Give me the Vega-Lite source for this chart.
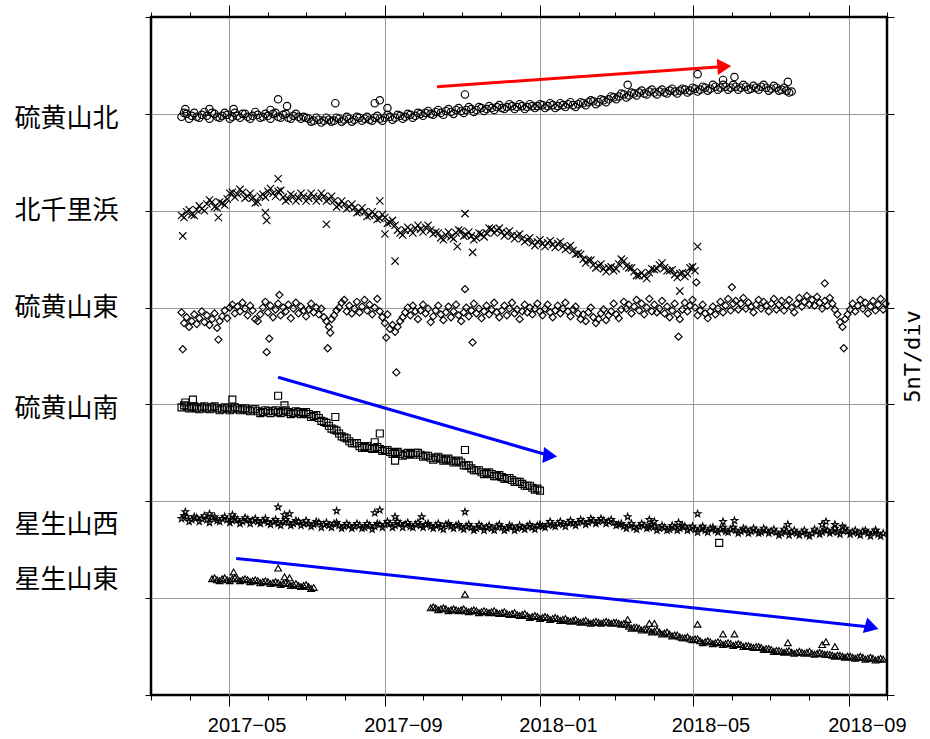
{
"$schema":"https://vega.github.io/schema/vega-lite/v6.json",
"width":736,"height":678,
"autosize":{"type":"none"},
"padding":{"left":151,"top":17,"right":43,"bottom":44},
"background":"white",
"config":{"view":{"stroke":"black","strokeWidth":2.5},"axis":{"domain":false,"tickColor":"black","tickWidth":1,"gridColor":"#999999","gridWidth":1,"labelColor":"black","titleColor":"black"}},
"datasets":{
"arw":[
{"id":"r","t1":"2017-10-12","v1":6.28,"t2":"2018-05-26","v2":6.49},
{"id":"b1","t1":"2017-06-09","v1":3.28,"t2":"2018-01-09","v2":2.47},
{"id":"b2","t1":"2017-05-07","v1":1.41,"t2":"2018-09-19","v2":0.70}
],
"pts":[
{"s":"A","t":"2017-03-25","v":5.97},{"s":"A","t":"2017-03-29","v":6.00},{"s":"A","t":"2017-04-02","v":5.98},{"s":"A","t":"2017-04-06","v":5.97},{"s":"A","t":"2017-04-10","v":5.99},{"s":"A","t":"2017-04-14","v":5.98},{"s":"A","t":"2017-04-18","v":6.01},{"s":"A","t":"2017-04-22","v":5.97},{"s":"A","t":"2017-04-26","v":5.98},{"s":"A","t":"2017-04-30","v":5.99},
{"s":"A","t":"2017-05-04","v":5.97},{"s":"A","t":"2017-05-08","v":5.98},{"s":"A","t":"2017-05-12","v":6.00},{"s":"A","t":"2017-05-16","v":5.97},{"s":"A","t":"2017-05-20","v":5.98},{"s":"A","t":"2017-05-24","v":5.99},{"s":"A","t":"2017-05-28","v":5.97},{"s":"A","t":"2017-06-01","v":5.98},{"s":"A","t":"2017-06-05","v":6.00},{"s":"A","t":"2017-06-09","v":5.97},
{"s":"A","t":"2017-06-13","v":5.99},{"s":"A","t":"2017-06-17","v":5.96},{"s":"A","t":"2017-06-21","v":5.98},{"s":"A","t":"2017-06-25","v":5.97},{"s":"A","t":"2017-06-29","v":5.97},{"s":"A","t":"2017-07-03","v":5.95},{"s":"A","t":"2017-07-07","v":5.93},{"s":"A","t":"2017-07-11","v":5.94},{"s":"A","t":"2017-07-15","v":5.93},{"s":"A","t":"2017-07-19","v":5.94},
{"s":"A","t":"2017-07-23","v":5.93},{"s":"A","t":"2017-07-27","v":5.95},{"s":"A","t":"2017-07-31","v":5.94},{"s":"A","t":"2017-08-04","v":5.95},{"s":"A","t":"2017-08-08","v":5.94},{"s":"A","t":"2017-08-12","v":5.96},{"s":"A","t":"2017-08-16","v":5.95},{"s":"A","t":"2017-08-20","v":5.94},{"s":"A","t":"2017-08-24","v":5.96},{"s":"A","t":"2017-08-28","v":5.95},
{"s":"A","t":"2017-09-01","v":5.96},{"s":"A","t":"2017-09-05","v":5.97},{"s":"A","t":"2017-09-09","v":5.96},{"s":"A","t":"2017-09-13","v":5.98},{"s":"A","t":"2017-09-17","v":5.97},{"s":"A","t":"2017-09-21","v":5.99},{"s":"A","t":"2017-09-25","v":5.98},{"s":"A","t":"2017-09-29","v":6.00},{"s":"A","t":"2017-10-03","v":6.01},{"s":"A","t":"2017-10-07","v":6.00},
{"s":"A","t":"2017-10-11","v":6.02},{"s":"A","t":"2017-10-15","v":6.01},{"s":"A","t":"2017-10-19","v":6.03},{"s":"A","t":"2017-10-23","v":6.02},{"s":"A","t":"2017-10-27","v":6.04},{"s":"A","t":"2017-10-31","v":6.03},{"s":"A","t":"2017-11-04","v":6.04},{"s":"A","t":"2017-11-08","v":6.05},{"s":"A","t":"2017-11-12","v":6.04},{"s":"A","t":"2017-11-16","v":6.06},
{"s":"A","t":"2017-11-20","v":6.05},{"s":"A","t":"2017-11-24","v":6.06},{"s":"A","t":"2017-11-28","v":6.07},{"s":"A","t":"2017-12-02","v":6.06},{"s":"A","t":"2017-12-06","v":6.07},{"s":"A","t":"2017-12-10","v":6.08},{"s":"A","t":"2017-12-14","v":6.07},{"s":"A","t":"2017-12-18","v":6.08},{"s":"A","t":"2017-12-22","v":6.07},{"s":"A","t":"2017-12-26","v":6.08},
{"s":"A","t":"2017-12-30","v":6.08},{"s":"A","t":"2018-01-03","v":6.09},{"s":"A","t":"2018-01-07","v":6.08},{"s":"A","t":"2018-01-11","v":6.09},{"s":"A","t":"2018-01-15","v":6.08},{"s":"A","t":"2018-01-19","v":6.09},{"s":"A","t":"2018-01-23","v":6.10},{"s":"A","t":"2018-01-27","v":6.09},{"s":"A","t":"2018-01-31","v":6.10},{"s":"A","t":"2018-02-04","v":6.11},
{"s":"A","t":"2018-02-08","v":6.12},{"s":"A","t":"2018-02-12","v":6.13},{"s":"A","t":"2018-02-16","v":6.12},{"s":"A","t":"2018-02-20","v":6.14},{"s":"A","t":"2018-02-24","v":6.15},{"s":"A","t":"2018-02-28","v":6.17},{"s":"A","t":"2018-03-04","v":6.18},{"s":"A","t":"2018-03-08","v":6.20},{"s":"A","t":"2018-03-12","v":6.19},{"s":"A","t":"2018-03-16","v":6.21},
{"s":"A","t":"2018-03-20","v":6.22},{"s":"A","t":"2018-03-24","v":6.21},{"s":"A","t":"2018-03-28","v":6.23},{"s":"A","t":"2018-04-01","v":6.22},{"s":"A","t":"2018-04-05","v":6.23},{"s":"A","t":"2018-04-09","v":6.22},{"s":"A","t":"2018-04-13","v":6.24},{"s":"A","t":"2018-04-17","v":6.23},{"s":"A","t":"2018-04-21","v":6.24},{"s":"A","t":"2018-04-25","v":6.25},
{"s":"A","t":"2018-04-29","v":6.24},{"s":"A","t":"2018-05-03","v":6.26},{"s":"A","t":"2018-05-07","v":6.25},{"s":"A","t":"2018-05-11","v":6.27},{"s":"A","t":"2018-05-15","v":6.26},{"s":"A","t":"2018-05-19","v":6.28},{"s":"A","t":"2018-05-23","v":6.27},{"s":"A","t":"2018-05-27","v":6.28},{"s":"A","t":"2018-05-31","v":6.27},{"s":"A","t":"2018-06-04","v":6.28},
{"s":"A","t":"2018-06-08","v":6.27},{"s":"A","t":"2018-06-12","v":6.28},{"s":"A","t":"2018-06-16","v":6.26},{"s":"A","t":"2018-06-20","v":6.27},{"s":"A","t":"2018-06-24","v":6.28},{"s":"A","t":"2018-06-28","v":6.27},{"s":"A","t":"2018-07-02","v":6.26},{"s":"A","t":"2018-07-06","v":6.27},{"s":"A","t":"2018-07-10","v":6.25},{"s":"A","t":"2018-07-14","v":6.24},{"s":"A","t":"2018-07-18","v":6.23},
{"s":"A","t":"2017-03-28","v":6.05},{"s":"A","t":"2017-04-16","v":6.05},{"s":"A","t":"2017-05-05","v":6.05},{"s":"A","t":"2017-06-03","v":6.04},{"s":"A","t":"2017-06-09","v":6.15},{"s":"A","t":"2017-06-16","v":6.08},{"s":"A","t":"2017-07-24","v":6.11},{"s":"A","t":"2017-08-24","v":6.11},{"s":"A","t":"2017-08-28","v":6.14},{"s":"A","t":"2017-09-03","v":6.06},{"s":"A","t":"2017-11-03","v":6.20},{"s":"A","t":"2018-03-11","v":6.30},{"s":"A","t":"2018-05-05","v":6.41},{"s":"A","t":"2018-05-25","v":6.35},{"s":"A","t":"2018-06-03","v":6.38},{"s":"A","t":"2018-07-15","v":6.33},
{"s":"A","t":"2017-03-27","v":6.01},{"s":"A","t":"2017-03-31","v":5.95},{"s":"A","t":"2017-04-04","v":6.01},{"s":"A","t":"2017-04-08","v":5.96},{"s":"A","t":"2017-04-12","v":6.02},{"s":"A","t":"2017-04-16","v":5.95},{"s":"A","t":"2017-04-20","v":6.00},{"s":"A","t":"2017-04-24","v":5.96},{"s":"A","t":"2017-04-28","v":6.01},{"s":"A","t":"2017-05-02","v":5.95},
{"s":"A","t":"2017-05-06","v":6.01},{"s":"A","t":"2017-05-10","v":5.96},{"s":"A","t":"2017-05-14","v":6.00},{"s":"A","t":"2017-05-18","v":5.95},{"s":"A","t":"2017-05-22","v":6.02},{"s":"A","t":"2017-05-26","v":5.96},{"s":"A","t":"2017-05-30","v":6.00},{"s":"A","t":"2017-06-03","v":5.95},{"s":"A","t":"2017-06-07","v":6.01},{"s":"A","t":"2017-06-11","v":5.96},
{"s":"A","t":"2017-06-15","v":6.00},{"s":"A","t":"2017-06-19","v":5.95},{"s":"A","t":"2017-06-23","v":6.00},{"s":"A","t":"2017-06-27","v":5.95},{"s":"A","t":"2017-07-01","v":5.96},{"s":"A","t":"2017-07-05","v":5.92},{"s":"A","t":"2017-07-09","v":5.96},{"s":"A","t":"2017-07-13","v":5.91},{"s":"A","t":"2017-07-17","v":5.96},{"s":"A","t":"2017-07-21","v":5.92},
{"s":"A","t":"2017-07-25","v":5.96},{"s":"A","t":"2017-07-29","v":5.92},{"s":"A","t":"2017-08-02","v":5.97},{"s":"A","t":"2017-08-06","v":5.92},{"s":"A","t":"2017-08-10","v":5.97},{"s":"A","t":"2017-08-14","v":5.93},{"s":"A","t":"2017-08-18","v":5.97},{"s":"A","t":"2017-08-22","v":5.93},{"s":"A","t":"2017-08-26","v":5.98},{"s":"A","t":"2017-08-30","v":5.93},
{"s":"A","t":"2017-09-03","v":5.99},{"s":"A","t":"2017-09-07","v":5.94},{"s":"A","t":"2017-09-11","v":5.99},{"s":"A","t":"2017-09-15","v":5.95},{"s":"A","t":"2017-09-19","v":6.00},{"s":"A","t":"2017-09-23","v":5.96},{"s":"A","t":"2017-09-27","v":6.01},{"s":"A","t":"2017-10-01","v":5.98},{"s":"A","t":"2017-10-05","v":6.03},{"s":"A","t":"2017-10-09","v":5.99},
{"s":"A","t":"2017-10-13","v":6.04},{"s":"A","t":"2017-10-17","v":5.99},{"s":"A","t":"2017-10-21","v":6.05},{"s":"A","t":"2017-10-25","v":6.00},{"s":"A","t":"2017-10-29","v":6.06},{"s":"A","t":"2017-11-02","v":6.01},{"s":"A","t":"2017-11-06","v":6.07},{"s":"A","t":"2017-11-10","v":6.02},{"s":"A","t":"2017-11-14","v":6.07},{"s":"A","t":"2017-11-18","v":6.03},
{"s":"A","t":"2017-11-22","v":6.08},{"s":"A","t":"2017-11-26","v":6.04},{"s":"A","t":"2017-11-30","v":6.09},{"s":"A","t":"2017-12-04","v":6.05},{"s":"A","t":"2017-12-08","v":6.10},{"s":"A","t":"2017-12-12","v":6.05},{"s":"A","t":"2017-12-16","v":6.10},{"s":"A","t":"2017-12-20","v":6.05},{"s":"A","t":"2017-12-24","v":6.10},{"s":"A","t":"2017-12-28","v":6.06},
{"s":"A","t":"2018-01-01","v":6.10},{"s":"A","t":"2018-01-05","v":6.06},{"s":"A","t":"2018-01-09","v":6.11},{"s":"A","t":"2018-01-13","v":6.06},{"s":"A","t":"2018-01-17","v":6.11},{"s":"A","t":"2018-01-21","v":6.07},{"s":"A","t":"2018-01-25","v":6.12},{"s":"A","t":"2018-01-29","v":6.07},{"s":"A","t":"2018-02-02","v":6.12},{"s":"A","t":"2018-02-06","v":6.09},
{"s":"A","t":"2018-02-10","v":6.14},{"s":"A","t":"2018-02-14","v":6.10},{"s":"A","t":"2018-02-18","v":6.15},{"s":"A","t":"2018-02-22","v":6.12},{"s":"A","t":"2018-02-26","v":6.18},{"s":"A","t":"2018-03-02","v":6.15},{"s":"A","t":"2018-03-06","v":6.21},{"s":"A","t":"2018-03-10","v":6.17},{"s":"A","t":"2018-03-14","v":6.22},{"s":"A","t":"2018-03-18","v":6.19},
{"s":"A","t":"2018-03-22","v":6.24},{"s":"A","t":"2018-03-26","v":6.20},{"s":"A","t":"2018-03-30","v":6.25},{"s":"A","t":"2018-04-03","v":6.20},{"s":"A","t":"2018-04-07","v":6.25},{"s":"A","t":"2018-04-11","v":6.21},{"s":"A","t":"2018-04-15","v":6.26},{"s":"A","t":"2018-04-19","v":6.21},{"s":"A","t":"2018-04-23","v":6.26},{"s":"A","t":"2018-04-27","v":6.22},
{"s":"A","t":"2018-05-01","v":6.27},{"s":"A","t":"2018-05-05","v":6.23},{"s":"A","t":"2018-05-09","v":6.28},{"s":"A","t":"2018-05-13","v":6.24},{"s":"A","t":"2018-05-17","v":6.30},{"s":"A","t":"2018-05-21","v":6.25},{"s":"A","t":"2018-05-25","v":6.30},{"s":"A","t":"2018-05-29","v":6.25},{"s":"A","t":"2018-06-02","v":6.30},{"s":"A","t":"2018-06-06","v":6.25},
{"s":"A","t":"2018-06-10","v":6.30},{"s":"A","t":"2018-06-14","v":6.25},{"s":"A","t":"2018-06-18","v":6.29},{"s":"A","t":"2018-06-22","v":6.25},{"s":"A","t":"2018-06-26","v":6.30},{"s":"A","t":"2018-06-30","v":6.24},{"s":"A","t":"2018-07-04","v":6.29},{"s":"A","t":"2018-07-08","v":6.24},{"s":"A","t":"2018-07-12","v":6.27},{"s":"A","t":"2018-07-16","v":6.22},
{"s":"B","t":"2017-03-25","v":4.95},{"s":"B","t":"2017-03-29","v":4.99},{"s":"B","t":"2017-04-02","v":4.96},{"s":"B","t":"2017-04-06","v":5.01},{"s":"B","t":"2017-04-10","v":5.02},{"s":"B","t":"2017-04-14","v":5.07},{"s":"B","t":"2017-04-18","v":5.09},{"s":"B","t":"2017-04-22","v":5.03},{"s":"B","t":"2017-04-26","v":5.08},{"s":"B","t":"2017-04-30","v":5.12},
{"s":"B","t":"2017-05-04","v":5.19},{"s":"B","t":"2017-05-08","v":5.17},{"s":"B","t":"2017-05-12","v":5.19},{"s":"B","t":"2017-05-16","v":5.15},{"s":"B","t":"2017-05-20","v":5.13},{"s":"B","t":"2017-05-24","v":5.09},{"s":"B","t":"2017-05-28","v":5.17},{"s":"B","t":"2017-06-01","v":5.20},{"s":"B","t":"2017-06-05","v":5.18},{"s":"B","t":"2017-06-09","v":5.20},
{"s":"B","t":"2017-06-13","v":5.14},{"s":"B","t":"2017-06-17","v":5.12},{"s":"B","t":"2017-06-21","v":5.15},{"s":"B","t":"2017-06-25","v":5.13},{"s":"B","t":"2017-06-29","v":5.15},{"s":"B","t":"2017-07-03","v":5.13},{"s":"B","t":"2017-07-07","v":5.15},{"s":"B","t":"2017-07-11","v":5.13},{"s":"B","t":"2017-07-15","v":5.15},{"s":"B","t":"2017-07-19","v":5.12},
{"s":"B","t":"2017-07-23","v":5.10},{"s":"B","t":"2017-07-27","v":5.06},{"s":"B","t":"2017-07-31","v":5.07},{"s":"B","t":"2017-08-04","v":5.04},{"s":"B","t":"2017-08-08","v":5.03},{"s":"B","t":"2017-08-12","v":4.99},{"s":"B","t":"2017-08-16","v":4.99},{"s":"B","t":"2017-08-20","v":4.95},{"s":"B","t":"2017-08-24","v":4.96},{"s":"B","t":"2017-08-28","v":4.92},
{"s":"B","t":"2017-09-01","v":4.93},{"s":"B","t":"2017-09-05","v":4.88},{"s":"B","t":"2017-09-09","v":4.85},{"s":"B","t":"2017-09-13","v":4.77},{"s":"B","t":"2017-09-17","v":4.80},{"s":"B","t":"2017-09-21","v":4.80},{"s":"B","t":"2017-09-25","v":4.82},{"s":"B","t":"2017-09-29","v":4.81},{"s":"B","t":"2017-10-03","v":4.83},{"s":"B","t":"2017-10-07","v":4.80},
{"s":"B","t":"2017-10-11","v":4.78},{"s":"B","t":"2017-10-15","v":4.72},{"s":"B","t":"2017-10-19","v":4.75},{"s":"B","t":"2017-10-23","v":4.73},{"s":"B","t":"2017-10-27","v":4.77},{"s":"B","t":"2017-10-31","v":4.79},{"s":"B","t":"2017-11-04","v":4.75},{"s":"B","t":"2017-11-08","v":4.74},{"s":"B","t":"2017-11-12","v":4.72},{"s":"B","t":"2017-11-16","v":4.76},
{"s":"B","t":"2017-11-20","v":4.77},{"s":"B","t":"2017-11-24","v":4.81},{"s":"B","t":"2017-11-28","v":4.80},{"s":"B","t":"2017-12-02","v":4.78},{"s":"B","t":"2017-12-06","v":4.77},{"s":"B","t":"2017-12-10","v":4.74},{"s":"B","t":"2017-12-14","v":4.74},{"s":"B","t":"2017-12-18","v":4.71},{"s":"B","t":"2017-12-22","v":4.70},{"s":"B","t":"2017-12-26","v":4.67},
{"s":"B","t":"2017-12-30","v":4.68},{"s":"B","t":"2018-01-03","v":4.66},{"s":"B","t":"2018-01-07","v":4.67},{"s":"B","t":"2018-01-11","v":4.65},{"s":"B","t":"2018-01-15","v":4.66},{"s":"B","t":"2018-01-19","v":4.63},{"s":"B","t":"2018-01-23","v":4.62},{"s":"B","t":"2018-01-27","v":4.59},{"s":"B","t":"2018-01-31","v":4.56},{"s":"B","t":"2018-02-04","v":4.50},
{"s":"B","t":"2018-02-08","v":4.49},{"s":"B","t":"2018-02-12","v":4.44},{"s":"B","t":"2018-02-16","v":4.43},{"s":"B","t":"2018-02-20","v":4.40},{"s":"B","t":"2018-02-24","v":4.41},{"s":"B","t":"2018-02-28","v":4.38},{"s":"B","t":"2018-03-04","v":4.45},{"s":"B","t":"2018-03-08","v":4.48},{"s":"B","t":"2018-03-12","v":4.41},{"s":"B","t":"2018-03-16","v":4.37},
{"s":"B","t":"2018-03-20","v":4.33},{"s":"B","t":"2018-03-24","v":4.33},{"s":"B","t":"2018-03-28","v":4.36},{"s":"B","t":"2018-04-01","v":4.39},{"s":"B","t":"2018-04-05","v":4.44},{"s":"B","t":"2018-04-09","v":4.41},{"s":"B","t":"2018-04-13","v":4.38},{"s":"B","t":"2018-04-17","v":4.34},{"s":"B","t":"2018-04-21","v":4.35},{"s":"B","t":"2018-04-25","v":4.32},
{"s":"B","t":"2018-04-29","v":4.41},{"s":"B","t":"2018-05-03","v":4.38},
{"s":"B","t":"2017-03-26","v":4.74},{"s":"B","t":"2017-04-23","v":4.93},{"s":"B","t":"2017-05-30","v":4.98},{"s":"B","t":"2017-05-31","v":4.90},{"s":"B","t":"2017-06-09","v":5.33},{"s":"B","t":"2017-07-17","v":4.86},{"s":"B","t":"2017-08-28","v":5.10},{"s":"B","t":"2017-09-01","v":4.76},{"s":"B","t":"2017-09-09","v":4.48},{"s":"B","t":"2017-10-28","v":4.63},{"s":"B","t":"2017-11-03","v":4.97},{"s":"B","t":"2017-11-09","v":4.57},{"s":"B","t":"2018-04-21","v":4.17},{"s":"B","t":"2018-05-05","v":4.63},
{"s":"B","t":"2017-03-27","v":4.93},{"s":"B","t":"2017-03-31","v":5.01},{"s":"B","t":"2017-04-04","v":4.95},{"s":"B","t":"2017-04-08","v":5.05},{"s":"B","t":"2017-04-12","v":5.00},{"s":"B","t":"2017-04-16","v":5.11},{"s":"B","t":"2017-04-20","v":5.04},{"s":"B","t":"2017-04-24","v":5.09},{"s":"B","t":"2017-04-28","v":5.06},{"s":"B","t":"2017-05-02","v":5.18},
{"s":"B","t":"2017-05-06","v":5.14},{"s":"B","t":"2017-05-10","v":5.22},{"s":"B","t":"2017-05-14","v":5.13},{"s":"B","t":"2017-05-18","v":5.18},{"s":"B","t":"2017-05-22","v":5.08},{"s":"B","t":"2017-05-26","v":5.15},{"s":"B","t":"2017-05-30","v":5.14},{"s":"B","t":"2017-06-03","v":5.23},{"s":"B","t":"2017-06-07","v":5.15},{"s":"B","t":"2017-06-11","v":5.21},
{"s":"B","t":"2017-06-15","v":5.10},{"s":"B","t":"2017-06-19","v":5.17},{"s":"B","t":"2017-06-23","v":5.10},{"s":"B","t":"2017-06-27","v":5.18},{"s":"B","t":"2017-07-01","v":5.10},{"s":"B","t":"2017-07-05","v":5.18},{"s":"B","t":"2017-07-09","v":5.10},{"s":"B","t":"2017-07-13","v":5.18},{"s":"B","t":"2017-07-17","v":5.10},{"s":"B","t":"2017-07-21","v":5.15},
{"s":"B","t":"2017-07-25","v":5.04},{"s":"B","t":"2017-07-29","v":5.10},{"s":"B","t":"2017-08-02","v":5.02},{"s":"B","t":"2017-08-06","v":5.07},{"s":"B","t":"2017-08-10","v":4.98},{"s":"B","t":"2017-08-14","v":5.03},{"s":"B","t":"2017-08-18","v":4.94},{"s":"B","t":"2017-08-22","v":4.99},{"s":"B","t":"2017-08-26","v":4.91},{"s":"B","t":"2017-08-30","v":4.96},
{"s":"B","t":"2017-09-03","v":4.87},{"s":"B","t":"2017-09-07","v":4.90},{"s":"B","t":"2017-09-11","v":4.80},{"s":"B","t":"2017-09-15","v":4.75},{"s":"B","t":"2017-09-19","v":4.83},{"s":"B","t":"2017-09-23","v":4.77},{"s":"B","t":"2017-09-27","v":4.85},{"s":"B","t":"2017-10-01","v":4.78},{"s":"B","t":"2017-10-05","v":4.85},{"s":"B","t":"2017-10-09","v":4.76},
{"s":"B","t":"2017-10-13","v":4.77},{"s":"B","t":"2017-10-17","v":4.70},{"s":"B","t":"2017-10-21","v":4.78},{"s":"B","t":"2017-10-25","v":4.71},{"s":"B","t":"2017-10-29","v":4.80},{"s":"B","t":"2017-11-02","v":4.74},{"s":"B","t":"2017-11-06","v":4.78},{"s":"B","t":"2017-11-10","v":4.70},{"s":"B","t":"2017-11-14","v":4.77},{"s":"B","t":"2017-11-18","v":4.73},
{"s":"B","t":"2017-11-22","v":4.82},{"s":"B","t":"2017-11-26","v":4.77},{"s":"B","t":"2017-11-30","v":4.82},{"s":"B","t":"2017-12-04","v":4.74},{"s":"B","t":"2017-12-08","v":4.79},{"s":"B","t":"2017-12-12","v":4.71},{"s":"B","t":"2017-12-16","v":4.76},{"s":"B","t":"2017-12-20","v":4.68},{"s":"B","t":"2017-12-24","v":4.72},{"s":"B","t":"2017-12-28","v":4.64},
{"s":"B","t":"2018-01-01","v":4.70},{"s":"B","t":"2018-01-05","v":4.63},{"s":"B","t":"2018-01-09","v":4.69},{"s":"B","t":"2018-01-13","v":4.62},{"s":"B","t":"2018-01-17","v":4.68},{"s":"B","t":"2018-01-21","v":4.60},{"s":"B","t":"2018-01-25","v":4.64},{"s":"B","t":"2018-01-29","v":4.55},{"s":"B","t":"2018-02-02","v":4.55},{"s":"B","t":"2018-02-06","v":4.46},
{"s":"B","t":"2018-02-10","v":4.49},{"s":"B","t":"2018-02-14","v":4.41},{"s":"B","t":"2018-02-18","v":4.45},{"s":"B","t":"2018-02-22","v":4.37},{"s":"B","t":"2018-02-26","v":4.42},{"s":"B","t":"2018-03-02","v":4.40},{"s":"B","t":"2018-03-06","v":4.50},{"s":"B","t":"2018-03-10","v":4.43},{"s":"B","t":"2018-03-14","v":4.41},{"s":"B","t":"2018-03-18","v":4.33},
{"s":"B","t":"2018-03-22","v":4.36},{"s":"B","t":"2018-03-26","v":4.30},{"s":"B","t":"2018-03-30","v":4.40},{"s":"B","t":"2018-04-03","v":4.40},{"s":"B","t":"2018-04-07","v":4.46},{"s":"B","t":"2018-04-11","v":4.38},{"s":"B","t":"2018-04-15","v":4.39},{"s":"B","t":"2018-04-19","v":4.31},{"s":"B","t":"2018-04-23","v":4.36},{"s":"B","t":"2018-04-27","v":4.35},{"s":"B","t":"2018-05-01","v":4.42},
{"s":"C","t":"2017-03-25","v":3.95},{"s":"C","t":"2017-03-27","v":3.84},{"s":"C","t":"2017-03-29","v":3.90},{"s":"C","t":"2017-03-31","v":3.80},{"s":"C","t":"2017-04-02","v":3.86},{"s":"C","t":"2017-04-04","v":3.93},{"s":"C","t":"2017-04-06","v":3.83},{"s":"C","t":"2017-04-08","v":3.89},{"s":"C","t":"2017-04-10","v":3.96},{"s":"C","t":"2017-04-12","v":3.85},
{"s":"C","t":"2017-04-14","v":3.92},{"s":"C","t":"2017-04-16","v":3.82},{"s":"C","t":"2017-04-18","v":3.88},{"s":"C","t":"2017-04-20","v":3.94},{"s":"C","t":"2017-04-22","v":3.79},{"s":"C","t":"2017-04-24","v":3.86},{"s":"C","t":"2017-04-26","v":3.91},{"s":"C","t":"2017-04-28","v":3.97},{"s":"C","t":"2017-04-30","v":3.89},{"s":"C","t":"2017-05-02","v":4.00},
{"s":"C","t":"2017-05-04","v":4.03},{"s":"C","t":"2017-05-06","v":3.94},{"s":"C","t":"2017-05-08","v":4.01},{"s":"C","t":"2017-05-10","v":3.96},{"s":"C","t":"2017-05-12","v":4.05},{"s":"C","t":"2017-05-14","v":3.99},{"s":"C","t":"2017-05-16","v":3.92},{"s":"C","t":"2017-05-18","v":4.02},{"s":"C","t":"2017-05-20","v":3.97},{"s":"C","t":"2017-05-22","v":3.88},
{"s":"C","t":"2017-05-24","v":3.86},{"s":"C","t":"2017-05-26","v":3.93},{"s":"C","t":"2017-05-28","v":4.00},{"s":"C","t":"2017-05-30","v":4.06},{"s":"C","t":"2017-06-01","v":3.95},{"s":"C","t":"2017-06-03","v":4.02},{"s":"C","t":"2017-06-05","v":3.90},{"s":"C","t":"2017-06-07","v":3.98},{"s":"C","t":"2017-06-09","v":4.04},{"s":"C","t":"2017-06-11","v":3.92},
{"s":"C","t":"2017-06-13","v":4.00},{"s":"C","t":"2017-06-15","v":3.96},{"s":"C","t":"2017-06-17","v":4.03},{"s":"C","t":"2017-06-19","v":3.89},{"s":"C","t":"2017-06-21","v":3.99},{"s":"C","t":"2017-06-23","v":4.05},{"s":"C","t":"2017-06-25","v":3.94},{"s":"C","t":"2017-06-27","v":4.01},{"s":"C","t":"2017-06-29","v":3.97},{"s":"C","t":"2017-07-01","v":3.91},
{"s":"C","t":"2017-07-03","v":3.98},{"s":"C","t":"2017-07-05","v":4.04},{"s":"C","t":"2017-07-07","v":3.95},{"s":"C","t":"2017-07-09","v":4.00},{"s":"C","t":"2017-07-11","v":3.93},{"s":"C","t":"2017-07-13","v":3.99},{"s":"C","t":"2017-07-15","v":3.90},{"s":"C","t":"2017-07-17","v":3.86},{"s":"C","t":"2017-07-19","v":3.80},{"s":"C","t":"2017-07-21","v":3.88},
{"s":"C","t":"2017-07-23","v":3.92},{"s":"C","t":"2017-07-25","v":3.97},{"s":"C","t":"2017-07-27","v":4.00},{"s":"C","t":"2017-07-29","v":4.05},{"s":"C","t":"2017-07-31","v":4.08},{"s":"C","t":"2017-08-02","v":3.96},{"s":"C","t":"2017-08-04","v":4.02},{"s":"C","t":"2017-08-06","v":3.94},{"s":"C","t":"2017-08-08","v":3.99},{"s":"C","t":"2017-08-10","v":4.06},
{"s":"C","t":"2017-08-12","v":3.95},{"s":"C","t":"2017-08-14","v":4.01},{"s":"C","t":"2017-08-16","v":4.08},{"s":"C","t":"2017-08-18","v":3.97},{"s":"C","t":"2017-08-20","v":4.03},{"s":"C","t":"2017-08-22","v":3.93},{"s":"C","t":"2017-08-24","v":4.00},{"s":"C","t":"2017-08-26","v":4.09},{"s":"C","t":"2017-08-28","v":3.96},{"s":"C","t":"2017-08-30","v":3.90},
{"s":"C","t":"2017-09-01","v":3.84},{"s":"C","t":"2017-09-03","v":3.93},{"s":"C","t":"2017-09-05","v":3.78},{"s":"C","t":"2017-09-07","v":3.82},{"s":"C","t":"2017-09-09","v":3.75},{"s":"C","t":"2017-09-11","v":3.80},{"s":"C","t":"2017-09-13","v":3.86},{"s":"C","t":"2017-09-15","v":3.90},{"s":"C","t":"2017-09-17","v":3.95},{"s":"C","t":"2017-09-19","v":4.00},
{"s":"C","t":"2017-09-21","v":3.92},{"s":"C","t":"2017-09-23","v":4.02},{"s":"C","t":"2017-09-25","v":3.96},{"s":"C","t":"2017-09-27","v":3.88},{"s":"C","t":"2017-09-29","v":3.97},{"s":"C","t":"2017-10-01","v":4.03},{"s":"C","t":"2017-10-03","v":3.94},{"s":"C","t":"2017-10-05","v":3.99},{"s":"C","t":"2017-10-07","v":3.85},{"s":"C","t":"2017-10-09","v":3.91},
{"s":"C","t":"2017-10-11","v":3.97},{"s":"C","t":"2017-10-13","v":4.02},{"s":"C","t":"2017-10-15","v":3.93},{"s":"C","t":"2017-10-17","v":3.87},{"s":"C","t":"2017-10-19","v":3.95},{"s":"C","t":"2017-10-21","v":4.01},{"s":"C","t":"2017-10-23","v":3.90},{"s":"C","t":"2017-10-25","v":3.96},{"s":"C","t":"2017-10-27","v":4.03},{"s":"C","t":"2017-10-29","v":3.92},
{"s":"C","t":"2017-10-31","v":3.86},{"s":"C","t":"2017-11-02","v":3.95},{"s":"C","t":"2017-11-04","v":4.00},{"s":"C","t":"2017-11-06","v":3.91},{"s":"C","t":"2017-11-08","v":3.97},{"s":"C","t":"2017-11-10","v":4.04},{"s":"C","t":"2017-11-12","v":3.94},{"s":"C","t":"2017-11-14","v":3.99},{"s":"C","t":"2017-11-16","v":3.89},{"s":"C","t":"2017-11-18","v":3.96},
{"s":"C","t":"2017-11-20","v":4.02},{"s":"C","t":"2017-11-22","v":3.93},{"s":"C","t":"2017-11-24","v":3.98},{"s":"C","t":"2017-11-26","v":4.05},{"s":"C","t":"2017-11-28","v":3.95},{"s":"C","t":"2017-11-30","v":3.90},{"s":"C","t":"2017-12-02","v":3.97},{"s":"C","t":"2017-12-04","v":4.02},{"s":"C","t":"2017-12-06","v":3.92},{"s":"C","t":"2017-12-08","v":3.99},
{"s":"C","t":"2017-12-10","v":4.05},{"s":"C","t":"2017-12-12","v":3.94},{"s":"C","t":"2017-12-14","v":3.98},{"s":"C","t":"2017-12-16","v":3.88},{"s":"C","t":"2017-12-18","v":3.96},{"s":"C","t":"2017-12-20","v":4.03},{"s":"C","t":"2017-12-22","v":3.95},{"s":"C","t":"2017-12-24","v":4.00},{"s":"C","t":"2017-12-26","v":3.93},{"s":"C","t":"2017-12-28","v":3.99},
{"s":"C","t":"2017-12-30","v":4.04},{"s":"C","t":"2018-01-01","v":3.96},{"s":"C","t":"2018-01-03","v":3.92},{"s":"C","t":"2018-01-05","v":3.99},{"s":"C","t":"2018-01-07","v":4.03},{"s":"C","t":"2018-01-09","v":3.95},{"s":"C","t":"2018-01-11","v":3.90},{"s":"C","t":"2018-01-13","v":3.97},{"s":"C","t":"2018-01-15","v":4.02},{"s":"C","t":"2018-01-17","v":3.94},
{"s":"C","t":"2018-01-19","v":3.99},{"s":"C","t":"2018-01-21","v":4.05},{"s":"C","t":"2018-01-23","v":3.96},{"s":"C","t":"2018-01-25","v":3.91},{"s":"C","t":"2018-01-27","v":3.98},{"s":"C","t":"2018-01-29","v":4.01},{"s":"C","t":"2018-01-31","v":3.94},{"s":"C","t":"2018-02-02","v":3.88},{"s":"C","t":"2018-02-04","v":3.93},{"s":"C","t":"2018-02-06","v":3.86},
{"s":"C","t":"2018-02-08","v":3.95},{"s":"C","t":"2018-02-10","v":4.00},{"s":"C","t":"2018-02-12","v":3.90},{"s":"C","t":"2018-02-14","v":3.84},{"s":"C","t":"2018-02-16","v":3.88},{"s":"C","t":"2018-02-18","v":3.94},{"s":"C","t":"2018-02-20","v":3.98},{"s":"C","t":"2018-02-22","v":3.87},{"s":"C","t":"2018-02-24","v":3.92},{"s":"C","t":"2018-02-26","v":3.96},
{"s":"C","t":"2018-02-28","v":4.04},{"s":"C","t":"2018-03-02","v":3.93},{"s":"C","t":"2018-03-04","v":3.89},{"s":"C","t":"2018-03-06","v":3.98},{"s":"C","t":"2018-03-08","v":4.06},{"s":"C","t":"2018-03-10","v":3.99},{"s":"C","t":"2018-03-12","v":4.03},{"s":"C","t":"2018-03-14","v":3.94},{"s":"C","t":"2018-03-16","v":4.01},{"s":"C","t":"2018-03-18","v":4.08},
{"s":"C","t":"2018-03-20","v":3.97},{"s":"C","t":"2018-03-22","v":4.04},{"s":"C","t":"2018-03-24","v":3.93},{"s":"C","t":"2018-03-26","v":4.00},{"s":"C","t":"2018-03-28","v":4.09},{"s":"C","t":"2018-03-30","v":3.96},{"s":"C","t":"2018-04-01","v":4.03},{"s":"C","t":"2018-04-03","v":3.95},{"s":"C","t":"2018-04-05","v":3.99},{"s":"C","t":"2018-04-07","v":4.07},
{"s":"C","t":"2018-04-09","v":3.94},{"s":"C","t":"2018-04-11","v":4.01},{"s":"C","t":"2018-04-13","v":3.90},{"s":"C","t":"2018-04-15","v":3.97},{"s":"C","t":"2018-04-17","v":4.04},{"s":"C","t":"2018-04-19","v":3.93},{"s":"C","t":"2018-04-21","v":3.88},{"s":"C","t":"2018-04-23","v":3.98},{"s":"C","t":"2018-04-25","v":4.05},{"s":"C","t":"2018-04-27","v":3.96},
{"s":"C","t":"2018-04-29","v":4.02},{"s":"C","t":"2018-05-01","v":4.08},{"s":"C","t":"2018-05-03","v":4.00},{"s":"C","t":"2018-05-05","v":3.92},{"s":"C","t":"2018-05-07","v":3.97},{"s":"C","t":"2018-05-09","v":4.03},{"s":"C","t":"2018-05-11","v":3.94},{"s":"C","t":"2018-05-13","v":3.89},{"s":"C","t":"2018-05-15","v":3.96},{"s":"C","t":"2018-05-17","v":4.01},
{"s":"C","t":"2018-05-19","v":3.93},{"s":"C","t":"2018-05-21","v":3.99},{"s":"C","t":"2018-05-23","v":4.06},{"s":"C","t":"2018-05-25","v":3.95},{"s":"C","t":"2018-05-27","v":4.02},{"s":"C","t":"2018-05-29","v":4.09},{"s":"C","t":"2018-05-31","v":3.97},{"s":"C","t":"2018-06-02","v":4.04},{"s":"C","t":"2018-06-04","v":4.07},{"s":"C","t":"2018-06-06","v":3.98},
{"s":"C","t":"2018-06-08","v":4.04},{"s":"C","t":"2018-06-10","v":4.10},{"s":"C","t":"2018-06-12","v":3.99},{"s":"C","t":"2018-06-14","v":4.05},{"s":"C","t":"2018-06-16","v":4.01},{"s":"C","t":"2018-06-18","v":3.95},{"s":"C","t":"2018-06-20","v":4.03},{"s":"C","t":"2018-06-22","v":4.08},{"s":"C","t":"2018-06-24","v":3.99},{"s":"C","t":"2018-06-26","v":4.06},
{"s":"C","t":"2018-06-28","v":4.02},{"s":"C","t":"2018-06-30","v":3.96},{"s":"C","t":"2018-07-02","v":4.04},{"s":"C","t":"2018-07-04","v":4.09},{"s":"C","t":"2018-07-06","v":3.98},{"s":"C","t":"2018-07-08","v":4.03},{"s":"C","t":"2018-07-10","v":4.07},{"s":"C","t":"2018-07-12","v":3.97},{"s":"C","t":"2018-07-14","v":4.02},{"s":"C","t":"2018-07-16","v":4.08},
{"s":"C","t":"2018-07-18","v":4.00},{"s":"C","t":"2018-07-20","v":3.95},{"s":"C","t":"2018-07-22","v":4.04},{"s":"C","t":"2018-07-24","v":4.10},{"s":"C","t":"2018-07-26","v":4.01},{"s":"C","t":"2018-07-28","v":4.06},{"s":"C","t":"2018-07-30","v":4.12},{"s":"C","t":"2018-08-01","v":4.03},{"s":"C","t":"2018-08-03","v":4.08},{"s":"C","t":"2018-08-05","v":4.02},
{"s":"C","t":"2018-08-07","v":4.11},{"s":"C","t":"2018-08-09","v":4.05},{"s":"C","t":"2018-08-11","v":3.99},{"s":"C","t":"2018-08-13","v":4.07},{"s":"C","t":"2018-08-15","v":4.02},{"s":"C","t":"2018-08-17","v":4.10},{"s":"C","t":"2018-08-19","v":4.04},{"s":"C","t":"2018-08-21","v":3.98},{"s":"C","t":"2018-08-23","v":3.93},{"s":"C","t":"2018-08-25","v":3.85},
{"s":"C","t":"2018-08-27","v":3.80},{"s":"C","t":"2018-08-29","v":3.88},{"s":"C","t":"2018-08-31","v":3.93},{"s":"C","t":"2018-09-02","v":3.98},{"s":"C","t":"2018-09-04","v":4.04},{"s":"C","t":"2018-09-06","v":3.96},{"s":"C","t":"2018-09-08","v":4.02},{"s":"C","t":"2018-09-10","v":4.08},{"s":"C","t":"2018-09-12","v":3.99},{"s":"C","t":"2018-09-14","v":4.05},
{"s":"C","t":"2018-09-16","v":3.94},{"s":"C","t":"2018-09-18","v":4.01},{"s":"C","t":"2018-09-20","v":4.07},{"s":"C","t":"2018-09-22","v":3.97},{"s":"C","t":"2018-09-24","v":4.03},{"s":"C","t":"2018-09-26","v":4.09},{"s":"C","t":"2018-09-28","v":3.98},{"s":"C","t":"2018-09-30","v":4.04},
{"s":"C","t":"2017-03-26","v":3.57},{"s":"C","t":"2017-04-23","v":3.67},{"s":"C","t":"2017-05-31","v":3.54},{"s":"C","t":"2017-06-02","v":3.68},{"s":"C","t":"2017-06-10","v":4.13},{"s":"C","t":"2017-07-18","v":3.58},{"s":"C","t":"2017-07-20","v":3.74},{"s":"C","t":"2017-09-02","v":3.69},{"s":"C","t":"2017-09-10","v":3.33},{"s":"C","t":"2017-11-03","v":4.19},{"s":"C","t":"2017-11-09","v":3.64},{"s":"C","t":"2018-04-20","v":3.70},{"s":"C","t":"2018-05-04","v":4.26},{"s":"C","t":"2018-06-01","v":4.21},{"s":"C","t":"2018-08-13","v":4.25},{"s":"C","t":"2018-08-28","v":3.58},
{"s":"D","t":"2017-03-25","v":2.97},{"s":"D","t":"2017-03-29","v":2.98},{"s":"D","t":"2017-04-02","v":2.97},{"s":"D","t":"2017-04-06","v":2.96},{"s":"D","t":"2017-04-10","v":2.97},{"s":"D","t":"2017-04-14","v":2.96},{"s":"D","t":"2017-04-18","v":2.97},{"s":"D","t":"2017-04-22","v":2.96},{"s":"D","t":"2017-04-26","v":2.95},{"s":"D","t":"2017-04-30","v":2.96},
{"s":"D","t":"2017-05-04","v":2.95},{"s":"D","t":"2017-05-08","v":2.96},{"s":"D","t":"2017-05-12","v":2.95},{"s":"D","t":"2017-05-16","v":2.94},{"s":"D","t":"2017-05-20","v":2.95},{"s":"D","t":"2017-05-24","v":2.93},{"s":"D","t":"2017-05-28","v":2.92},{"s":"D","t":"2017-06-01","v":2.93},{"s":"D","t":"2017-06-05","v":2.93},{"s":"D","t":"2017-06-09","v":2.92},
{"s":"D","t":"2017-06-13","v":2.93},{"s":"D","t":"2017-06-17","v":2.92},{"s":"D","t":"2017-06-21","v":2.91},{"s":"D","t":"2017-06-25","v":2.92},{"s":"D","t":"2017-06-29","v":2.91},{"s":"D","t":"2017-07-03","v":2.90},{"s":"D","t":"2017-07-07","v":2.88},{"s":"D","t":"2017-07-11","v":2.86},{"s":"D","t":"2017-07-15","v":2.82},{"s":"D","t":"2017-07-19","v":2.78},
{"s":"D","t":"2017-07-23","v":2.74},{"s":"D","t":"2017-07-27","v":2.70},{"s":"D","t":"2017-07-31","v":2.66},{"s":"D","t":"2017-08-04","v":2.62},{"s":"D","t":"2017-08-08","v":2.60},{"s":"D","t":"2017-08-12","v":2.57},{"s":"D","t":"2017-08-16","v":2.56},{"s":"D","t":"2017-08-20","v":2.55},{"s":"D","t":"2017-08-24","v":2.55},{"s":"D","t":"2017-08-28","v":2.54},
{"s":"D","t":"2017-09-01","v":2.53},{"s":"D","t":"2017-09-05","v":2.51},{"s":"D","t":"2017-09-09","v":2.50},{"s":"D","t":"2017-09-13","v":2.49},{"s":"D","t":"2017-09-17","v":2.48},{"s":"D","t":"2017-09-21","v":2.49},{"s":"D","t":"2017-09-25","v":2.50},{"s":"D","t":"2017-09-29","v":2.48},{"s":"D","t":"2017-10-03","v":2.47},{"s":"D","t":"2017-10-07","v":2.45},
{"s":"D","t":"2017-10-11","v":2.45},{"s":"D","t":"2017-10-15","v":2.44},{"s":"D","t":"2017-10-19","v":2.43},{"s":"D","t":"2017-10-23","v":2.42},{"s":"D","t":"2017-10-27","v":2.41},{"s":"D","t":"2017-10-31","v":2.40},{"s":"D","t":"2017-11-04","v":2.37},{"s":"D","t":"2017-11-08","v":2.34},{"s":"D","t":"2017-11-12","v":2.32},{"s":"D","t":"2017-11-16","v":2.30},
{"s":"D","t":"2017-11-20","v":2.29},{"s":"D","t":"2017-11-24","v":2.28},{"s":"D","t":"2017-11-28","v":2.26},{"s":"D","t":"2017-12-02","v":2.25},{"s":"D","t":"2017-12-06","v":2.24},{"s":"D","t":"2017-12-10","v":2.22},{"s":"D","t":"2017-12-14","v":2.20},{"s":"D","t":"2017-12-18","v":2.18},{"s":"D","t":"2017-12-22","v":2.16},{"s":"D","t":"2017-12-26","v":2.14},
{"s":"D","t":"2017-12-30","v":2.13},{"s":"D","t":"2018-01-01","v":2.11},
{"s":"D","t":"2017-03-28","v":3.02},{"s":"D","t":"2017-04-03","v":3.05},{"s":"D","t":"2017-05-04","v":3.05},{"s":"D","t":"2017-06-09","v":3.09},{"s":"D","t":"2017-06-14","v":2.99},{"s":"D","t":"2017-07-24","v":2.87},{"s":"D","t":"2017-08-24","v":2.61},{"s":"D","t":"2017-08-28","v":2.70},{"s":"D","t":"2017-09-09","v":2.42},{"s":"D","t":"2017-11-03","v":2.53},{"s":"D","t":"2018-05-22","v":1.57},
{"s":"D","t":"2017-03-27","v":2.99},{"s":"D","t":"2017-03-31","v":2.96},{"s":"D","t":"2017-04-04","v":2.98},{"s":"D","t":"2017-04-08","v":2.95},{"s":"D","t":"2017-04-12","v":2.98},{"s":"D","t":"2017-04-16","v":2.95},{"s":"D","t":"2017-04-20","v":2.98},{"s":"D","t":"2017-04-24","v":2.94},{"s":"D","t":"2017-04-28","v":2.97},{"s":"D","t":"2017-05-02","v":2.94},
{"s":"D","t":"2017-05-06","v":2.97},{"s":"D","t":"2017-05-10","v":2.94},{"s":"D","t":"2017-05-14","v":2.96},{"s":"D","t":"2017-05-18","v":2.93},{"s":"D","t":"2017-05-22","v":2.95},{"s":"D","t":"2017-05-26","v":2.91},{"s":"D","t":"2017-05-30","v":2.94},{"s":"D","t":"2017-06-03","v":2.91},{"s":"D","t":"2017-06-07","v":2.94},{"s":"D","t":"2017-06-11","v":2.91},
{"s":"D","t":"2017-06-15","v":2.94},{"s":"D","t":"2017-06-19","v":2.90},{"s":"D","t":"2017-06-23","v":2.93},{"s":"D","t":"2017-06-27","v":2.90},{"s":"D","t":"2017-07-01","v":2.92},{"s":"D","t":"2017-07-05","v":2.87},{"s":"D","t":"2017-07-09","v":2.89},{"s":"D","t":"2017-07-13","v":2.83},{"s":"D","t":"2017-07-17","v":2.81},{"s":"D","t":"2017-07-21","v":2.75},
{"s":"D","t":"2017-07-25","v":2.73},{"s":"D","t":"2017-07-29","v":2.67},{"s":"D","t":"2017-08-02","v":2.65},{"s":"D","t":"2017-08-06","v":2.60},{"s":"D","t":"2017-08-10","v":2.60},{"s":"D","t":"2017-08-14","v":2.55},{"s":"D","t":"2017-08-18","v":2.57},{"s":"D","t":"2017-08-22","v":2.54},{"s":"D","t":"2017-08-26","v":2.56},{"s":"D","t":"2017-08-30","v":2.52},
{"s":"D","t":"2017-09-03","v":2.53},{"s":"D","t":"2017-09-07","v":2.49},{"s":"D","t":"2017-09-11","v":2.51},{"s":"D","t":"2017-09-15","v":2.47},{"s":"D","t":"2017-09-19","v":2.50},{"s":"D","t":"2017-09-23","v":2.48},{"s":"D","t":"2017-09-27","v":2.50},{"s":"D","t":"2017-10-01","v":2.46},{"s":"D","t":"2017-10-05","v":2.47},{"s":"D","t":"2017-10-09","v":2.43},
{"s":"D","t":"2017-10-13","v":2.46},{"s":"D","t":"2017-10-17","v":2.42},{"s":"D","t":"2017-10-21","v":2.44},{"s":"D","t":"2017-10-25","v":2.40},{"s":"D","t":"2017-10-29","v":2.42},{"s":"D","t":"2017-11-02","v":2.37},{"s":"D","t":"2017-11-06","v":2.37},{"s":"D","t":"2017-11-10","v":2.32},{"s":"D","t":"2017-11-14","v":2.32},{"s":"D","t":"2017-11-18","v":2.28},
{"s":"D","t":"2017-11-22","v":2.30},{"s":"D","t":"2017-11-26","v":2.26},{"s":"D","t":"2017-11-30","v":2.27},{"s":"D","t":"2017-12-04","v":2.23},{"s":"D","t":"2017-12-08","v":2.24},{"s":"D","t":"2017-12-12","v":2.20},{"s":"D","t":"2017-12-16","v":2.20},{"s":"D","t":"2017-12-20","v":2.16},{"s":"D","t":"2017-12-24","v":2.16},{"s":"D","t":"2017-12-28","v":2.12},
{"s":"E","t":"2017-03-25","v":1.82},{"s":"E","t":"2017-03-29","v":1.84},{"s":"E","t":"2017-04-02","v":1.81},{"s":"E","t":"2017-04-06","v":1.83},{"s":"E","t":"2017-04-10","v":1.82},{"s":"E","t":"2017-04-14","v":1.81},{"s":"E","t":"2017-04-18","v":1.83},{"s":"E","t":"2017-04-22","v":1.80},{"s":"E","t":"2017-04-26","v":1.82},{"s":"E","t":"2017-04-30","v":1.81},
{"s":"E","t":"2017-05-04","v":1.80},{"s":"E","t":"2017-05-08","v":1.81},{"s":"E","t":"2017-05-12","v":1.79},{"s":"E","t":"2017-05-16","v":1.81},{"s":"E","t":"2017-05-20","v":1.80},{"s":"E","t":"2017-05-24","v":1.79},{"s":"E","t":"2017-05-28","v":1.80},{"s":"E","t":"2017-06-01","v":1.78},{"s":"E","t":"2017-06-05","v":1.79},{"s":"E","t":"2017-06-09","v":1.77},
{"s":"E","t":"2017-06-13","v":1.79},{"s":"E","t":"2017-06-17","v":1.78},{"s":"E","t":"2017-06-21","v":1.77},{"s":"E","t":"2017-06-25","v":1.79},{"s":"E","t":"2017-06-29","v":1.77},{"s":"E","t":"2017-07-03","v":1.77},{"s":"E","t":"2017-07-07","v":1.76},{"s":"E","t":"2017-07-11","v":1.78},{"s":"E","t":"2017-07-15","v":1.76},{"s":"E","t":"2017-07-19","v":1.75},
{"s":"E","t":"2017-07-23","v":1.77},{"s":"E","t":"2017-07-27","v":1.75},{"s":"E","t":"2017-07-31","v":1.74},{"s":"E","t":"2017-08-04","v":1.75},{"s":"E","t":"2017-08-08","v":1.74},{"s":"E","t":"2017-08-12","v":1.75},{"s":"E","t":"2017-08-16","v":1.73},{"s":"E","t":"2017-08-20","v":1.75},{"s":"E","t":"2017-08-24","v":1.74},{"s":"E","t":"2017-08-28","v":1.76},
{"s":"E","t":"2017-09-01","v":1.76},{"s":"E","t":"2017-09-05","v":1.77},{"s":"E","t":"2017-09-09","v":1.75},{"s":"E","t":"2017-09-13","v":1.77},{"s":"E","t":"2017-09-17","v":1.76},{"s":"E","t":"2017-09-21","v":1.74},{"s":"E","t":"2017-09-25","v":1.76},{"s":"E","t":"2017-09-29","v":1.75},{"s":"E","t":"2017-10-03","v":1.76},{"s":"E","t":"2017-10-07","v":1.74},
{"s":"E","t":"2017-10-11","v":1.75},{"s":"E","t":"2017-10-15","v":1.73},{"s":"E","t":"2017-10-19","v":1.76},{"s":"E","t":"2017-10-23","v":1.74},{"s":"E","t":"2017-10-27","v":1.75},{"s":"E","t":"2017-10-31","v":1.73},{"s":"E","t":"2017-11-04","v":1.74},{"s":"E","t":"2017-11-08","v":1.73},{"s":"E","t":"2017-11-12","v":1.72},{"s":"E","t":"2017-11-16","v":1.74},
{"s":"E","t":"2017-11-20","v":1.73},{"s":"E","t":"2017-11-24","v":1.72},{"s":"E","t":"2017-11-28","v":1.74},{"s":"E","t":"2017-12-02","v":1.73},{"s":"E","t":"2017-12-06","v":1.72},{"s":"E","t":"2017-12-10","v":1.74},{"s":"E","t":"2017-12-14","v":1.72},{"s":"E","t":"2017-12-18","v":1.73},{"s":"E","t":"2017-12-22","v":1.74},{"s":"E","t":"2017-12-26","v":1.73},
{"s":"E","t":"2017-12-30","v":1.75},{"s":"E","t":"2018-01-03","v":1.74},{"s":"E","t":"2018-01-07","v":1.76},{"s":"E","t":"2018-01-11","v":1.75},{"s":"E","t":"2018-01-15","v":1.77},{"s":"E","t":"2018-01-19","v":1.76},{"s":"E","t":"2018-01-23","v":1.78},{"s":"E","t":"2018-01-27","v":1.77},{"s":"E","t":"2018-01-31","v":1.78},{"s":"E","t":"2018-02-04","v":1.79},
{"s":"E","t":"2018-02-08","v":1.78},{"s":"E","t":"2018-02-12","v":1.80},{"s":"E","t":"2018-02-16","v":1.79},{"s":"E","t":"2018-02-20","v":1.80},{"s":"E","t":"2018-02-24","v":1.79},{"s":"E","t":"2018-02-28","v":1.78},{"s":"E","t":"2018-03-04","v":1.76},{"s":"E","t":"2018-03-08","v":1.74},{"s":"E","t":"2018-03-12","v":1.75},{"s":"E","t":"2018-03-16","v":1.73},
{"s":"E","t":"2018-03-20","v":1.74},{"s":"E","t":"2018-03-24","v":1.75},{"s":"E","t":"2018-03-28","v":1.73},{"s":"E","t":"2018-04-01","v":1.74},{"s":"E","t":"2018-04-05","v":1.72},{"s":"E","t":"2018-04-09","v":1.73},{"s":"E","t":"2018-04-13","v":1.71},{"s":"E","t":"2018-04-17","v":1.73},{"s":"E","t":"2018-04-21","v":1.72},{"s":"E","t":"2018-04-25","v":1.74},
{"s":"E","t":"2018-04-29","v":1.72},{"s":"E","t":"2018-05-03","v":1.71},{"s":"E","t":"2018-05-07","v":1.72},{"s":"E","t":"2018-05-11","v":1.70},{"s":"E","t":"2018-05-15","v":1.72},{"s":"E","t":"2018-05-19","v":1.70},{"s":"E","t":"2018-05-23","v":1.71},{"s":"E","t":"2018-05-27","v":1.69},{"s":"E","t":"2018-05-31","v":1.71},{"s":"E","t":"2018-06-04","v":1.70},
{"s":"E","t":"2018-06-08","v":1.69},{"s":"E","t":"2018-06-12","v":1.71},{"s":"E","t":"2018-06-16","v":1.69},{"s":"E","t":"2018-06-20","v":1.70},{"s":"E","t":"2018-06-24","v":1.68},{"s":"E","t":"2018-06-28","v":1.70},{"s":"E","t":"2018-07-02","v":1.69},{"s":"E","t":"2018-07-06","v":1.68},{"s":"E","t":"2018-07-10","v":1.67},{"s":"E","t":"2018-07-14","v":1.69},
{"s":"E","t":"2018-07-18","v":1.68},{"s":"E","t":"2018-07-22","v":1.67},{"s":"E","t":"2018-07-26","v":1.68},{"s":"E","t":"2018-07-30","v":1.66},{"s":"E","t":"2018-08-03","v":1.67},{"s":"E","t":"2018-08-07","v":1.69},{"s":"E","t":"2018-08-11","v":1.68},{"s":"E","t":"2018-08-15","v":1.70},{"s":"E","t":"2018-08-19","v":1.69},{"s":"E","t":"2018-08-23","v":1.68},
{"s":"E","t":"2018-08-27","v":1.70},{"s":"E","t":"2018-08-31","v":1.69},{"s":"E","t":"2018-09-04","v":1.68},{"s":"E","t":"2018-09-08","v":1.67},{"s":"E","t":"2018-09-12","v":1.69},{"s":"E","t":"2018-09-16","v":1.67},{"s":"E","t":"2018-09-20","v":1.68},{"s":"E","t":"2018-09-24","v":1.66},{"s":"E","t":"2018-09-28","v":1.67},
{"s":"E","t":"2017-03-28","v":1.89},{"s":"E","t":"2017-04-16","v":1.87},{"s":"E","t":"2017-05-04","v":1.86},{"s":"E","t":"2017-06-09","v":1.94},{"s":"E","t":"2017-06-14","v":1.86},{"s":"E","t":"2017-06-18","v":1.87},{"s":"E","t":"2017-07-25","v":1.90},{"s":"E","t":"2017-08-24","v":1.88},{"s":"E","t":"2017-08-28","v":1.91},{"s":"E","t":"2017-09-09","v":1.84},{"s":"E","t":"2017-09-30","v":1.84},{"s":"E","t":"2017-11-03","v":1.89},
{"s":"E","t":"2018-03-11","v":1.84},{"s":"E","t":"2018-03-28","v":1.81},{"s":"E","t":"2018-04-01","v":1.79},{"s":"E","t":"2018-04-20","v":1.78},{"s":"E","t":"2018-05-05","v":1.87},{"s":"E","t":"2018-05-25","v":1.79},{"s":"E","t":"2018-06-03","v":1.80},{"s":"E","t":"2018-07-15","v":1.76},{"s":"E","t":"2018-08-11","v":1.76},{"s":"E","t":"2018-08-14","v":1.79},{"s":"E","t":"2018-08-21","v":1.76},{"s":"E","t":"2018-08-27","v":1.74},{"s":"E","t":"2018-09-22","v":1.70},
{"s":"E","t":"2017-03-27","v":1.85},{"s":"E","t":"2017-03-31","v":1.79},{"s":"E","t":"2017-04-04","v":1.84},{"s":"E","t":"2017-04-08","v":1.79},{"s":"E","t":"2017-04-12","v":1.85},{"s":"E","t":"2017-04-16","v":1.78},{"s":"E","t":"2017-04-20","v":1.84},{"s":"E","t":"2017-04-24","v":1.79},{"s":"E","t":"2017-04-28","v":1.84},{"s":"E","t":"2017-05-02","v":1.78},
{"s":"E","t":"2017-05-06","v":1.83},{"s":"E","t":"2017-05-10","v":1.77},{"s":"E","t":"2017-05-14","v":1.83},{"s":"E","t":"2017-05-18","v":1.77},{"s":"E","t":"2017-05-22","v":1.82},{"s":"E","t":"2017-05-26","v":1.77},{"s":"E","t":"2017-05-30","v":1.82},{"s":"E","t":"2017-06-03","v":1.76},{"s":"E","t":"2017-06-07","v":1.81},{"s":"E","t":"2017-06-11","v":1.75},
{"s":"E","t":"2017-06-15","v":1.81},{"s":"E","t":"2017-06-19","v":1.75},{"s":"E","t":"2017-06-23","v":1.80},{"s":"E","t":"2017-06-27","v":1.75},{"s":"E","t":"2017-07-01","v":1.80},{"s":"E","t":"2017-07-05","v":1.74},{"s":"E","t":"2017-07-09","v":1.79},{"s":"E","t":"2017-07-13","v":1.73},{"s":"E","t":"2017-07-17","v":1.78},{"s":"E","t":"2017-07-21","v":1.73},
{"s":"E","t":"2017-07-25","v":1.78},{"s":"E","t":"2017-07-29","v":1.72},{"s":"E","t":"2017-08-02","v":1.77},{"s":"E","t":"2017-08-06","v":1.72},{"s":"E","t":"2017-08-10","v":1.77},{"s":"E","t":"2017-08-14","v":1.72},{"s":"E","t":"2017-08-18","v":1.77},{"s":"E","t":"2017-08-22","v":1.71},{"s":"E","t":"2017-08-26","v":1.77},{"s":"E","t":"2017-08-30","v":1.73},
{"s":"E","t":"2017-09-03","v":1.79},{"s":"E","t":"2017-09-07","v":1.73},{"s":"E","t":"2017-09-11","v":1.79},{"s":"E","t":"2017-09-15","v":1.73},{"s":"E","t":"2017-09-19","v":1.78},{"s":"E","t":"2017-09-23","v":1.73},{"s":"E","t":"2017-09-27","v":1.78},{"s":"E","t":"2017-10-01","v":1.73},{"s":"E","t":"2017-10-05","v":1.77},{"s":"E","t":"2017-10-09","v":1.72},
{"s":"E","t":"2017-10-13","v":1.77},{"s":"E","t":"2017-10-17","v":1.71},{"s":"E","t":"2017-10-21","v":1.77},{"s":"E","t":"2017-10-25","v":1.72},{"s":"E","t":"2017-10-29","v":1.76},{"s":"E","t":"2017-11-02","v":1.71},{"s":"E","t":"2017-11-06","v":1.76},{"s":"E","t":"2017-11-10","v":1.70},{"s":"E","t":"2017-11-14","v":1.76},{"s":"E","t":"2017-11-18","v":1.70},
{"s":"E","t":"2017-11-22","v":1.75},{"s":"E","t":"2017-11-26","v":1.70},{"s":"E","t":"2017-11-30","v":1.76},{"s":"E","t":"2017-12-04","v":1.70},{"s":"E","t":"2017-12-08","v":1.75},{"s":"E","t":"2017-12-12","v":1.70},{"s":"E","t":"2017-12-16","v":1.75},{"s":"E","t":"2017-12-20","v":1.71},{"s":"E","t":"2017-12-24","v":1.76},{"s":"E","t":"2017-12-28","v":1.71},
{"s":"E","t":"2018-01-01","v":1.76},{"s":"E","t":"2018-01-05","v":1.73},{"s":"E","t":"2018-01-09","v":1.79},{"s":"E","t":"2018-01-13","v":1.74},{"s":"E","t":"2018-01-17","v":1.79},{"s":"E","t":"2018-01-21","v":1.74},{"s":"E","t":"2018-01-25","v":1.80},{"s":"E","t":"2018-01-29","v":1.75},{"s":"E","t":"2018-02-02","v":1.81},{"s":"E","t":"2018-02-06","v":1.76},
{"s":"E","t":"2018-02-10","v":1.82},{"s":"E","t":"2018-02-14","v":1.77},{"s":"E","t":"2018-02-18","v":1.82},{"s":"E","t":"2018-02-22","v":1.77},{"s":"E","t":"2018-02-26","v":1.81},{"s":"E","t":"2018-03-02","v":1.75},{"s":"E","t":"2018-03-06","v":1.77},{"s":"E","t":"2018-03-10","v":1.72},{"s":"E","t":"2018-03-14","v":1.77},{"s":"E","t":"2018-03-18","v":1.71},
{"s":"E","t":"2018-03-22","v":1.77},{"s":"E","t":"2018-03-26","v":1.72},{"s":"E","t":"2018-03-30","v":1.76},{"s":"E","t":"2018-04-03","v":1.70},{"s":"E","t":"2018-04-07","v":1.75},{"s":"E","t":"2018-04-11","v":1.70},{"s":"E","t":"2018-04-15","v":1.75},{"s":"E","t":"2018-04-19","v":1.70},{"s":"E","t":"2018-04-23","v":1.75},{"s":"E","t":"2018-04-27","v":1.70},
{"s":"E","t":"2018-05-01","v":1.74},{"s":"E","t":"2018-05-05","v":1.68},{"s":"E","t":"2018-05-09","v":1.74},{"s":"E","t":"2018-05-13","v":1.68},{"s":"E","t":"2018-05-17","v":1.73},{"s":"E","t":"2018-05-21","v":1.68},{"s":"E","t":"2018-05-25","v":1.73},{"s":"E","t":"2018-05-29","v":1.68},{"s":"E","t":"2018-06-02","v":1.73},{"s":"E","t":"2018-06-06","v":1.67},
{"s":"E","t":"2018-06-10","v":1.72},{"s":"E","t":"2018-06-14","v":1.67},{"s":"E","t":"2018-06-18","v":1.72},{"s":"E","t":"2018-06-22","v":1.67},{"s":"E","t":"2018-06-26","v":1.72},{"s":"E","t":"2018-06-30","v":1.67},{"s":"E","t":"2018-07-04","v":1.71},{"s":"E","t":"2018-07-08","v":1.65},{"s":"E","t":"2018-07-12","v":1.71},{"s":"E","t":"2018-07-16","v":1.65},
{"s":"E","t":"2018-07-20","v":1.70},{"s":"E","t":"2018-07-24","v":1.65},{"s":"E","t":"2018-07-28","v":1.70},{"s":"E","t":"2018-08-01","v":1.64},{"s":"E","t":"2018-08-05","v":1.71},{"s":"E","t":"2018-08-09","v":1.66},{"s":"E","t":"2018-08-13","v":1.71},{"s":"E","t":"2018-08-17","v":1.67},{"s":"E","t":"2018-08-21","v":1.72},{"s":"E","t":"2018-08-25","v":1.66},
{"s":"E","t":"2018-08-29","v":1.72},{"s":"E","t":"2018-09-02","v":1.66},{"s":"E","t":"2018-09-06","v":1.70},{"s":"E","t":"2018-09-10","v":1.65},{"s":"E","t":"2018-09-14","v":1.70},{"s":"E","t":"2018-09-18","v":1.64},{"s":"E","t":"2018-09-22","v":1.70},{"s":"E","t":"2018-09-26","v":1.64},
{"s":"F","t":"2017-04-18","v":1.20},{"s":"F","t":"2017-04-22","v":1.19},{"s":"F","t":"2017-04-26","v":1.20},{"s":"F","t":"2017-04-30","v":1.19},{"s":"F","t":"2017-05-04","v":1.20},{"s":"F","t":"2017-05-08","v":1.20},{"s":"F","t":"2017-05-12","v":1.19},{"s":"F","t":"2017-05-16","v":1.19},{"s":"F","t":"2017-05-20","v":1.18},{"s":"F","t":"2017-05-24","v":1.18},
{"s":"F","t":"2017-05-28","v":1.17},{"s":"F","t":"2017-06-01","v":1.17},{"s":"F","t":"2017-06-05","v":1.16},{"s":"F","t":"2017-06-09","v":1.16},{"s":"F","t":"2017-06-13","v":1.15},{"s":"F","t":"2017-06-17","v":1.15},{"s":"F","t":"2017-06-21","v":1.14},{"s":"F","t":"2017-06-25","v":1.13},{"s":"F","t":"2017-06-29","v":1.13},{"s":"F","t":"2017-07-03","v":1.12},{"s":"F","t":"2017-07-07","v":1.11},
{"s":"F","t":"2017-04-20","v":1.21},{"s":"F","t":"2017-04-24","v":1.18},{"s":"F","t":"2017-04-28","v":1.21},{"s":"F","t":"2017-05-02","v":1.18},{"s":"F","t":"2017-05-06","v":1.21},{"s":"F","t":"2017-05-10","v":1.18},{"s":"F","t":"2017-05-14","v":1.20},{"s":"F","t":"2017-05-18","v":1.17},{"s":"F","t":"2017-05-22","v":1.19},{"s":"F","t":"2017-05-26","v":1.16},
{"s":"F","t":"2017-05-30","v":1.18},{"s":"F","t":"2017-06-03","v":1.15},{"s":"F","t":"2017-06-07","v":1.17},{"s":"F","t":"2017-06-11","v":1.14},{"s":"F","t":"2017-06-15","v":1.16},{"s":"F","t":"2017-06-19","v":1.13},{"s":"F","t":"2017-06-23","v":1.15},{"s":"F","t":"2017-06-27","v":1.12},{"s":"F","t":"2017-07-01","v":1.14},{"s":"F","t":"2017-07-05","v":1.10},
{"s":"F","t":"2017-10-07","v":0.90},{"s":"F","t":"2017-10-11","v":0.90},{"s":"F","t":"2017-10-15","v":0.89},{"s":"F","t":"2017-10-19","v":0.89},{"s":"F","t":"2017-10-23","v":0.88},{"s":"F","t":"2017-10-27","v":0.88},{"s":"F","t":"2017-10-31","v":0.88},{"s":"F","t":"2017-11-04","v":0.87},{"s":"F","t":"2017-11-08","v":0.87},{"s":"F","t":"2017-11-12","v":0.87},
{"s":"F","t":"2017-11-16","v":0.86},{"s":"F","t":"2017-11-20","v":0.86},{"s":"F","t":"2017-11-24","v":0.86},{"s":"F","t":"2017-11-28","v":0.85},{"s":"F","t":"2017-12-02","v":0.85},{"s":"F","t":"2017-12-06","v":0.84},{"s":"F","t":"2017-12-10","v":0.84},{"s":"F","t":"2017-12-14","v":0.83},{"s":"F","t":"2017-12-18","v":0.83},{"s":"F","t":"2017-12-22","v":0.82},
{"s":"F","t":"2017-12-26","v":0.81},{"s":"F","t":"2017-12-30","v":0.81},{"s":"F","t":"2018-01-03","v":0.80},{"s":"F","t":"2018-01-07","v":0.80},{"s":"F","t":"2018-01-11","v":0.79},{"s":"F","t":"2018-01-15","v":0.79},{"s":"F","t":"2018-01-19","v":0.78},{"s":"F","t":"2018-01-23","v":0.77},{"s":"F","t":"2018-01-27","v":0.77},{"s":"F","t":"2018-01-31","v":0.76},
{"s":"F","t":"2018-02-04","v":0.76},{"s":"F","t":"2018-02-08","v":0.75},{"s":"F","t":"2018-02-12","v":0.75},{"s":"F","t":"2018-02-16","v":0.75},{"s":"F","t":"2018-02-20","v":0.75},{"s":"F","t":"2018-02-24","v":0.75},{"s":"F","t":"2018-02-28","v":0.75},{"s":"F","t":"2018-03-04","v":0.74},{"s":"F","t":"2018-03-08","v":0.74},{"s":"F","t":"2018-03-12","v":0.71},
{"s":"F","t":"2018-03-16","v":0.70},{"s":"F","t":"2018-03-20","v":0.69},{"s":"F","t":"2018-03-24","v":0.68},{"s":"F","t":"2018-03-28","v":0.67},{"s":"F","t":"2018-04-01","v":0.66},{"s":"F","t":"2018-04-05","v":0.65},{"s":"F","t":"2018-04-09","v":0.64},{"s":"F","t":"2018-04-13","v":0.63},{"s":"F","t":"2018-04-17","v":0.62},{"s":"F","t":"2018-04-21","v":0.60},
{"s":"F","t":"2018-04-25","v":0.59},{"s":"F","t":"2018-04-29","v":0.58},{"s":"F","t":"2018-05-03","v":0.58},{"s":"F","t":"2018-05-07","v":0.56},{"s":"F","t":"2018-05-11","v":0.55},{"s":"F","t":"2018-05-15","v":0.55},{"s":"F","t":"2018-05-19","v":0.54},{"s":"F","t":"2018-05-23","v":0.54},{"s":"F","t":"2018-05-27","v":0.53},{"s":"F","t":"2018-05-31","v":0.53},
{"s":"F","t":"2018-06-04","v":0.52},{"s":"F","t":"2018-06-08","v":0.52},{"s":"F","t":"2018-06-12","v":0.51},{"s":"F","t":"2018-06-16","v":0.50},{"s":"F","t":"2018-06-20","v":0.50},{"s":"F","t":"2018-06-24","v":0.49},{"s":"F","t":"2018-06-28","v":0.48},{"s":"F","t":"2018-07-02","v":0.47},{"s":"F","t":"2018-07-06","v":0.46},{"s":"F","t":"2018-07-10","v":0.45},
{"s":"F","t":"2018-07-14","v":0.45},{"s":"F","t":"2018-07-18","v":0.44},{"s":"F","t":"2018-07-22","v":0.44},{"s":"F","t":"2018-07-26","v":0.44},{"s":"F","t":"2018-07-30","v":0.44},{"s":"F","t":"2018-08-03","v":0.43},{"s":"F","t":"2018-08-07","v":0.43},{"s":"F","t":"2018-08-11","v":0.43},{"s":"F","t":"2018-08-15","v":0.42},{"s":"F","t":"2018-08-19","v":0.41},
{"s":"F","t":"2018-08-23","v":0.41},{"s":"F","t":"2018-08-27","v":0.40},{"s":"F","t":"2018-08-31","v":0.40},{"s":"F","t":"2018-09-04","v":0.39},{"s":"F","t":"2018-09-08","v":0.39},{"s":"F","t":"2018-09-12","v":0.39},{"s":"F","t":"2018-09-16","v":0.38},{"s":"F","t":"2018-09-20","v":0.38},{"s":"F","t":"2018-09-24","v":0.37},{"s":"F","t":"2018-09-28","v":0.37},
{"s":"F","t":"2017-10-09","v":0.91},{"s":"F","t":"2017-10-13","v":0.88},{"s":"F","t":"2017-10-17","v":0.90},{"s":"F","t":"2017-10-21","v":0.87},{"s":"F","t":"2017-10-25","v":0.89},{"s":"F","t":"2017-10-29","v":0.87},{"s":"F","t":"2017-11-02","v":0.89},{"s":"F","t":"2017-11-06","v":0.86},{"s":"F","t":"2017-11-10","v":0.88},{"s":"F","t":"2017-11-14","v":0.85},
{"s":"F","t":"2017-11-18","v":0.87},{"s":"F","t":"2017-11-22","v":0.85},{"s":"F","t":"2017-11-26","v":0.87},{"s":"F","t":"2017-11-30","v":0.84},{"s":"F","t":"2017-12-04","v":0.86},{"s":"F","t":"2017-12-08","v":0.83},{"s":"F","t":"2017-12-12","v":0.85},{"s":"F","t":"2017-12-16","v":0.82},{"s":"F","t":"2017-12-20","v":0.84},{"s":"F","t":"2017-12-24","v":0.80},
{"s":"F","t":"2017-12-28","v":0.82},{"s":"F","t":"2018-01-01","v":0.79},{"s":"F","t":"2018-01-05","v":0.81},{"s":"F","t":"2018-01-09","v":0.78},{"s":"F","t":"2018-01-13","v":0.80},{"s":"F","t":"2018-01-17","v":0.77},{"s":"F","t":"2018-01-21","v":0.79},{"s":"F","t":"2018-01-25","v":0.76},{"s":"F","t":"2018-01-29","v":0.78},{"s":"F","t":"2018-02-02","v":0.75},
{"s":"F","t":"2018-02-06","v":0.77},{"s":"F","t":"2018-02-10","v":0.74},{"s":"F","t":"2018-02-14","v":0.76},{"s":"F","t":"2018-02-18","v":0.74},{"s":"F","t":"2018-02-22","v":0.76},{"s":"F","t":"2018-02-26","v":0.74},{"s":"F","t":"2018-03-02","v":0.75},{"s":"F","t":"2018-03-06","v":0.73},{"s":"F","t":"2018-03-10","v":0.73},{"s":"F","t":"2018-03-14","v":0.69},
{"s":"F","t":"2018-03-18","v":0.70},{"s":"F","t":"2018-03-22","v":0.67},{"s":"F","t":"2018-03-26","v":0.68},{"s":"F","t":"2018-03-30","v":0.65},{"s":"F","t":"2018-04-03","v":0.67},{"s":"F","t":"2018-04-07","v":0.63},{"s":"F","t":"2018-04-11","v":0.65},{"s":"F","t":"2018-04-15","v":0.61},{"s":"F","t":"2018-04-19","v":0.62},{"s":"F","t":"2018-04-23","v":0.59},
{"s":"F","t":"2018-04-27","v":0.60},{"s":"F","t":"2018-05-01","v":0.57},{"s":"F","t":"2018-05-05","v":0.58},{"s":"F","t":"2018-05-09","v":0.54},{"s":"F","t":"2018-05-13","v":0.56},{"s":"F","t":"2018-05-17","v":0.53},{"s":"F","t":"2018-05-21","v":0.55},{"s":"F","t":"2018-05-25","v":0.52},{"s":"F","t":"2018-05-29","v":0.54},{"s":"F","t":"2018-06-02","v":0.51},
{"s":"F","t":"2018-06-06","v":0.53},{"s":"F","t":"2018-06-10","v":0.50},{"s":"F","t":"2018-06-14","v":0.51},{"s":"F","t":"2018-06-18","v":0.49},{"s":"F","t":"2018-06-22","v":0.50},{"s":"F","t":"2018-06-26","v":0.47},{"s":"F","t":"2018-06-30","v":0.48},{"s":"F","t":"2018-07-04","v":0.45},{"s":"F","t":"2018-07-08","v":0.46},{"s":"F","t":"2018-07-12","v":0.44},
{"s":"F","t":"2018-07-16","v":0.46},{"s":"F","t":"2018-07-20","v":0.43},{"s":"F","t":"2018-07-24","v":0.45},{"s":"F","t":"2018-07-28","v":0.43},{"s":"F","t":"2018-08-01","v":0.45},{"s":"F","t":"2018-08-05","v":0.42},{"s":"F","t":"2018-08-09","v":0.44},{"s":"F","t":"2018-08-13","v":0.42},{"s":"F","t":"2018-08-17","v":0.42},{"s":"F","t":"2018-08-21","v":0.40},
{"s":"F","t":"2018-08-25","v":0.41},{"s":"F","t":"2018-08-29","v":0.39},{"s":"F","t":"2018-09-02","v":0.40},{"s":"F","t":"2018-09-06","v":0.38},{"s":"F","t":"2018-09-10","v":0.40},{"s":"F","t":"2018-09-14","v":0.37},{"s":"F","t":"2018-09-18","v":0.39},{"s":"F","t":"2018-09-22","v":0.36},{"s":"F","t":"2018-09-26","v":0.38},
{"s":"F","t":"2017-05-05","v":1.27},{"s":"F","t":"2017-06-09","v":1.31},{"s":"F","t":"2017-06-14","v":1.22},{"s":"F","t":"2017-06-18","v":1.21},{"s":"F","t":"2017-11-03","v":1.04},{"s":"F","t":"2018-03-11","v":0.78},{"s":"F","t":"2018-03-28","v":0.74},{"s":"F","t":"2018-04-01","v":0.74},{"s":"F","t":"2018-05-05","v":0.73},{"s":"F","t":"2018-05-25","v":0.63},{"s":"F","t":"2018-06-03","v":0.63},{"s":"F","t":"2018-07-15","v":0.54},{"s":"F","t":"2018-08-11","v":0.52},{"s":"F","t":"2018-08-14","v":0.55},{"s":"F","t":"2018-08-21","v":0.50}
]},
"layer":[
{"layer":[
{"data":{"name":"pts"},
"mark":{"type":"point","filled":false,"strokeWidth":1.15,"color":"black","opacity":1},
"encoding":{
"x":{"field":"t","type":"temporal","scale":{"type":"utc","domain":[{"year":2017,"month":3,"date":1,"utc":true},{"year":2018,"month":10,"date":1,"utc":true}]},
"axis":{"orient":"bottom","title":null,"tickCount":{"interval":"month","step":1},"labelExpr":"utcmonth(datum.value)%4==0 ? utcFormat(datum.value,'%Y−%m') : ''","grid":true,"gridOpacity":{"condition":{"test":"utcmonth(datum.value)%4==0","value":1},"value":0},"tickSize":{"condition":{"test":"utcmonth(datum.value)%4==0","value":11},"value":5},"labelFont":"Liberation Sans","labelFontSize":20,"labelPadding":9,"labelOffset":18,"labelOverlap":false,"labelFlush":false}},
"y":{"field":"v","type":"quantitative","scale":{"domain":[0,7],"nice":false,"zero":false},
"axis":{"orient":"left","title":null,"values":[0,1,2,3,4,5,6,7,5.95,2.96,1.76,1.19],"labelExpr":"datum.value==5.95?'硫黄山北':datum.value==5?'北千里浜':datum.value==4?'硫黄山東':datum.value==2.96?'硫黄山南':datum.value==1.76?'星生山西':datum.value==1.19?'星生山東':''","grid":true,"gridOpacity":{"condition":{"test":"datum.value==round(datum.value) && datum.value>0 && datum.value<7","value":1},"value":0},"tickOpacity":{"condition":{"test":"datum.value==round(datum.value)","value":1},"value":0},"tickSize":6,"labelFont":"Noto Sans CJK JP","labelFontSize":26,"labelPadding":27,"labelOverlap":false,"labelFlush":false,"labelBaseline":"middle"}},
"shape":{"field":"s","type":"nominal","scale":{"domain":["A","B","C","D","E","F"],"range":["circle","M-1,-1L1,1M-1,1L1,-1","diamond","square","M0,-1L0.235,-0.324L0.951,-0.309L0.38,0.124L0.588,0.809L0,0.4L-0.588,0.809L-0.38,0.124L-0.951,-0.309L-0.235,-0.324Z","triangle-up"]},"legend":null},
"size":{"field":"s","type":"nominal","scale":{"domain":["A","B","C","D","E","F"],"range":[55,45,60,50,105,70]},"legend":null}
}},
{"data":{"name":"arw"},
"mark":{"type":"rule","strokeWidth":3},
"encoding":{"x":{"field":"t1","type":"temporal"},"x2":{"field":"t2"},"y":{"field":"v1","type":"quantitative"},"y2":{"field":"v2"},
"color":{"field":"id","type":"nominal","scale":{"domain":["r","b1","b2"],"range":["#ff0000","#0000ff","#0000ff"]},"legend":null}}},
{"data":{"name":"arw"},
"mark":{"type":"point","shape":"triangle-right","filled":true,"size":260,"opacity":1},
"encoding":{"x":{"field":"t2","type":"temporal"},"y":{"field":"v2","type":"quantitative"},
"color":{"field":"id","type":"nominal","scale":{"domain":["r","b1","b2"],"range":["#ff0000","#0000ff","#0000ff"]},"legend":null},
"angle":{"field":"id","type":"nominal","scale":{"domain":["r","b1","b2"],"range":[-4,16,6]},"legend":null}}}
]},
{"data":{"name":"arw"},
"mark":{"type":"point","opacity":0},
"encoding":{
"x":{"field":"t1","type":"temporal","scale":{"type":"utc","domain":[{"year":2017,"month":3,"date":1,"utc":true},{"year":2018,"month":10,"date":1,"utc":true}]},
"axis":{"orient":"top","title":null,"tickCount":{"interval":"month","step":1},"labels":false,"grid":false,"tickSize":{"condition":{"test":"utcmonth(datum.value)%4==0","value":12},"value":5}}},
"y":{"field":"v1","type":"quantitative","scale":{"domain":[0,7],"nice":false,"zero":false},
"axis":{"orient":"right","values":[0,1,2,3,4,5,6,7],"labels":false,"grid":false,"tickSize":7,"title":"5nT/div","titleFont":"DejaVu Sans Mono","titleFontSize":22,"titleFontWeight":"normal","titleAngle":270,"titleBaseline":"top","titlePadding":8}}
}}
],
"resolve":{"scale":{"x":"independent","y":"independent"}}
}
